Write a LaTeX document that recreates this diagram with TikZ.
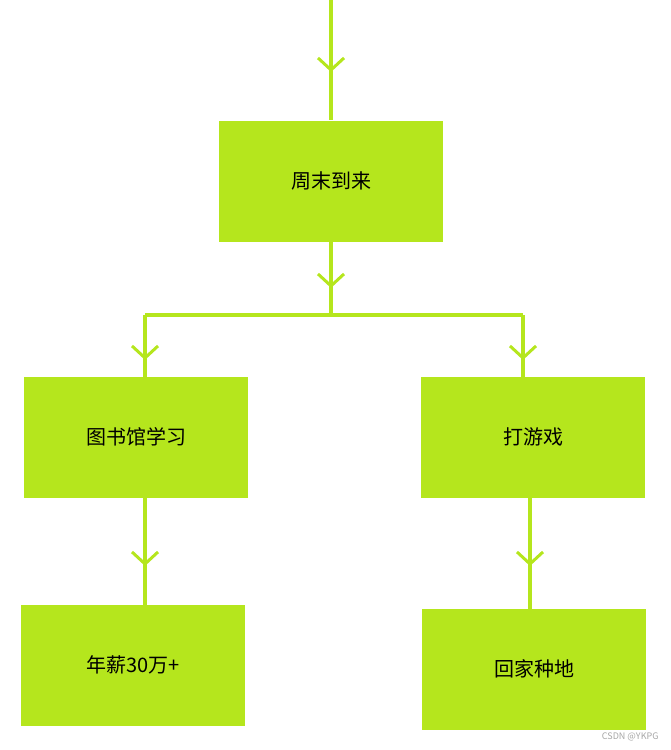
\documentclass[tikz,border=0pt]{standalone}
\usepackage{fontspec}
\setmainfont{Noto Sans CJK SC}
\usetikzlibrary{arrows.meta}
\definecolor{limegreen}{HTML}{B5E61D}
\tikzset{
  box/.style={fill=limegreen,minimum width=224pt,minimum height=121pt,inner sep=0pt,font=\fontsize{20pt}{24pt}\selectfont},
  conn/.style={draw=limegreen,line width=3.5pt},
  tip/.style={conn,-{Straight Barb[length=12pt,width=26pt,line width=3pt]}}
}
\begin{document}
\begin{tikzpicture}[x=1pt,y=-1pt]
    \useasboundingbox (0,0) rectangle (670,750);

    % Boxes
    \node[box] (weekend) at (331,181) {周末到来};
    \node[box] (library) at (136,437) {图书馆学习};
    \node[box] (games)   at (533,437) {打游戏};
    \node[box] (salary)  at (133,665) {年薪30万+};
    \node[box] (farm)    at (534,669) {回家种地};

    % Helper points
    \coordinate (start) at (331,0);
    \coordinate (split) at (331,315);
    \coordinate (splitL) at (145,315);
    \coordinate (splitR) at (523,315);

    % Connectors
    \draw[tip] (start) -- (331,72);
    \draw[conn] (331,60) -- (weekend.north);
    \draw[tip] (weekend.south) -- (331,288);
    \draw[conn] (331,275) -- (split);
    \draw[conn] (splitL) -- (splitR);
    \draw[tip] (splitL) -- (145,360);
    \draw[conn] (145,345) -- (145,377);
    \draw[tip] (splitR) -- (523,360);
    \draw[conn] (523,345) -- (523,377);
    \draw[tip] (145,498) -- (145,566);
    \draw[conn] (145,550) -- (145,605);
    \draw[tip] (530,498) -- (530,566);
    \draw[conn] (530,550) -- (530,609);

    % Watermark
    \node[text=gray!70,font=\fontsize{9pt}{10pt}\selectfont,anchor=south east] (mark) at (662,745) {CSDN @YKPG};
\end{tikzpicture}
\end{document}
